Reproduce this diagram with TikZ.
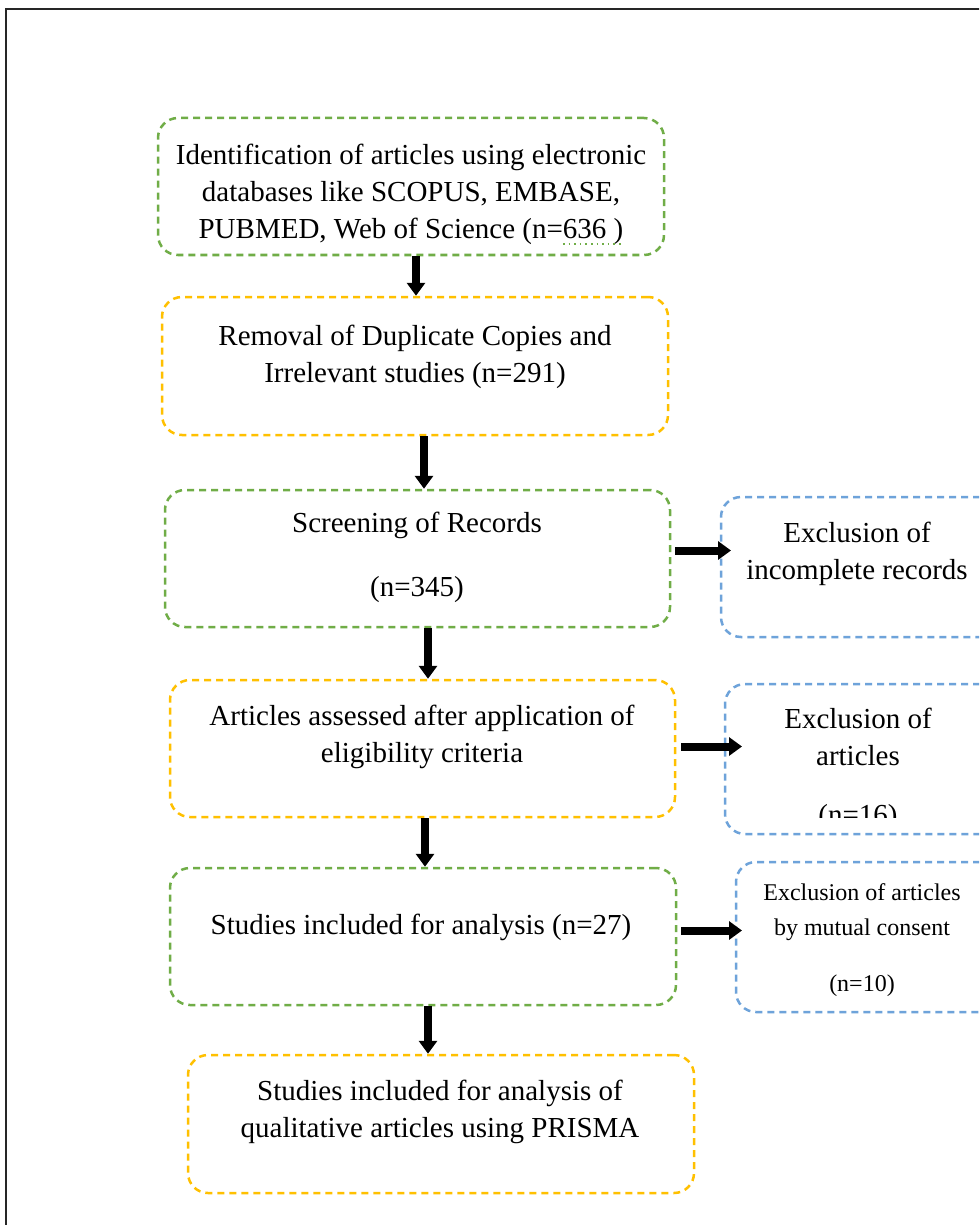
\documentclass[tikz,border=0pt]{standalone}
\usepackage{fontspec}
\setmainfont{Liberation Serif}
\usetikzlibrary{fit,arrows.meta,calc}
\definecolor{bgreen}{RGB}{112,173,71}
\definecolor{byellow}{RGB}{255,192,0}
\definecolor{bblue}{RGB}{110,163,218}
\tikzset{
  boxbase/.style={draw, line width=1.25pt, dash pattern=on 3.5pt off 2.5pt, rounded corners=10pt, inner sep=0pt},
  gbox/.style={boxbase, draw=bgreen},
  ybox/.style={boxbase, draw=byellow},
  bbox/.style={boxbase, draw=bblue},
  txt/.style={align=center, font=\fontsize{14.5pt}{18.5pt}\selectfont, inner sep=0pt},
  stxt/.style={align=center, font=\fontsize{12pt}{17.5pt}\selectfont, inner sep=0pt},
  arr/.style={line width=4pt, -{Triangle[length=6.5pt,width=9pt]}, black},
}
\begin{document}
\begin{tikzpicture}[x=0.5pt,y=-0.5pt]
\useasboundingbox (0,0) rectangle (979,1225);
\clip (0,0) rectangle (979,1225);
\fill[white] (0,0) rectangle (979,1225);
% frame
\draw[line width=1.2pt, black!85] (6,1230) -- (6,9) -- (990,9);

% boxes
\node[gbox, fit={(158,118)(664,255)}] (b1) {};
\node[ybox, fit={(162,297)(668,435)}] (b2) {};
\node[gbox, fit={(165,490)(670,627)}] (b3) {};
\node[bbox, fit={(721,497)(1000,637)}] (b4) {};
\node[ybox, fit={(170,680)(675,817)}] (b5) {};
\node[bbox, fit={(725,684)(1000,834)}] (b6) {};
\node[gbox, fit={(170,868)(676,1005)}] (b7) {};
\node[bbox, fit={(736,862)(1000,1012)}] (b8) {};
\node[ybox, fit={(188,1055)(694,1193)}] (b9) {};

% texts
\node[txt] (t1) at (411,194) {Identification of articles using electronic\\databases like SCOPUS, EMBASE,\\PUBMED, Web of Science (n=636 )};
\draw[bgreen, line width=0.8pt, dotted] (563,244) -- (622,244);
\node[txt] (t2) at (415,357) {Removal of Duplicate Copies and\\Irrelevant studies (n=291)};
\node[txt] (t3) at (417,557) {Screening of Records\\[13.5pt](n=345)};
\node[txt] (t4) at (857,553.5) {Exclusion of\\incomplete records};
\node[txt] (t5) at (422,736.5) {Articles assessed after application of\\eligibility criteria};
\node[txt] (t6) at (858,737) {Exclusion of\\articles};
\begin{scope}
\clip (700,0) rectangle (979,817);
\node[txt] (t6b) at (858,818) {(n=16)};
\end{scope}
\node[txt] (t7) at (421,927) {Studies included for analysis (n=27)};
\node[stxt] (t8) at (862,912) {Exclusion of articles\\by mutual consent};
\node[stxt] (t8b) at (862,985.5) {(n=10)};
\node[txt] (t9) at (440,1112) {Studies included for analysis of\\qualitative articles using PRISMA};

% vertical arrows
\draw[arr] ([xshift=2.5pt]b1.south) -- ([xshift=2.5pt]b1.south |- b2.north);
\draw[arr] ([xshift=4.5pt]b2.south) -- ([xshift=4.5pt]b2.south |- b3.north);
\draw[arr] ([xshift=5.25pt]b3.south) -- ([xshift=5.25pt]b3.south |- b5.north);
\draw[arr] ([xshift=1.25pt]b5.south) -- ([xshift=1.25pt]b5.south |- b7.north);
\draw[arr] ([xshift=2.5pt]b7.south) -- ([xshift=2.5pt]b7.south |- b9.north);

% horizontal arrows
\draw[arr] ([xshift=2pt,yshift=4pt]b3.east) -- ([yshift=4pt]b3.east -| 731,0);
\draw[arr] ([xshift=2.5pt,yshift=1pt]b5.east) -- ([yshift=1pt]b5.east -| 742,0);
\draw[arr] ([xshift=2pt,yshift=3pt]b7.east) -- ([yshift=3pt]b7.east -| 742,0);
\end{tikzpicture}
\end{document}
